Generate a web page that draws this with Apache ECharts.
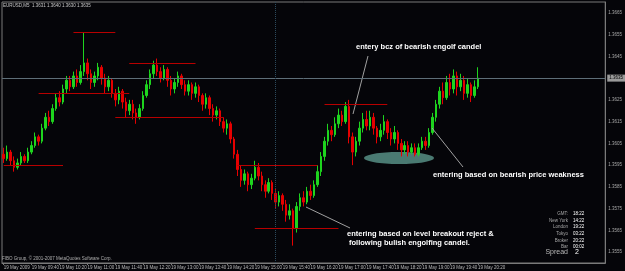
<!DOCTYPE html>
<html>
<head>
<meta charset="utf-8">
<script src="https://cdn.jsdelivr.net/npm/echarts@6/dist/echarts.min.js"></script>
<style>
  html, body { margin: 0; padding: 0; background: #050509; }
  #chart { width: 625px; height: 271px; }
</style>
</head>
<body>
<div id="chart"></div>
<script>
// EURUSD M5, 19 May 2009
const titleText = 'EURUSD,M5  1.3631 1.3640 1.3630 1.3635';
const timeLabels = ['19 May 2009', '19 May 09:40', '19 May 10:20', '19 May 11:00', '19 May 11:40',
  '19 May 12:20', '19 May 13:00', '19 May 13:40', '19 May 14:20', '19 May 15:00', '19 May 15:40',
  '19 May 16:20', '19 May 17:00', '19 May 17:40', '19 May 18:20', '19 May 19:00', '19 May 19:40',
  '19 May 20:20'];
// [open, close, low, high]
const candles = [
  [1.3600,1.3598,1.3596,1.3603],[1.3598,1.3601,1.3597,1.3604],[1.3601,1.3597,1.3595,1.3602],
  [1.3597,1.3594,1.3592,1.3599],[1.3594,1.3596,1.3593,1.3598],[1.3596,1.3599,1.3595,1.3601],
  [1.3599,1.3597,1.3596,1.3600],[1.3597,1.3601,1.3596,1.3603],[1.3601,1.3604,1.3600,1.3606],
  [1.3604,1.3608,1.3603,1.3610],[1.3608,1.3606,1.3604,1.3609],[1.3606,1.3612,1.3605,1.3614],
  [1.3612,1.3617,1.3611,1.3619],[1.3617,1.3615,1.3613,1.3620],[1.3615,1.3621,1.3614,1.3623],
  [1.3621,1.3626,1.3620,1.3628],[1.3626,1.3624,1.3622,1.3629],[1.3624,1.3630,1.3623,1.3632],
  [1.3630,1.3634,1.3628,1.3636],[1.3634,1.3631,1.3629,1.3636],[1.3631,1.3636,1.3630,1.3638],
  [1.3636,1.3633,1.3631,1.3639],[1.3633,1.3638,1.3632,1.3641],[1.3638,1.3642,1.3636,1.3656],
  [1.3642,1.3637,1.3634,1.3644],[1.3637,1.3633,1.3630,1.3639],[1.3633,1.3636,1.3631,1.3638],
  [1.3636,1.3640,1.3634,1.3642],[1.3640,1.3635,1.3632,1.3641],[1.3635,1.3631,1.3628,1.3637],
  [1.3631,1.3634,1.3629,1.3636],[1.3634,1.3628,1.3626,1.3635],[1.3628,1.3625,1.3622,1.3630],
  [1.3625,1.3629,1.3623,1.3631],[1.3629,1.3624,1.3621,1.3630],[1.3624,1.3620,1.3617,1.3626],
  [1.3620,1.3623,1.3618,1.3625],[1.3623,1.3619,1.3616,1.3625],[1.3619,1.3617,1.3614,1.3621],
  [1.3617,1.3621,1.3616,1.3623],[1.3621,1.3627,1.3620,1.3629],[1.3627,1.3632,1.3626,1.3634],
  [1.3632,1.3637,1.3630,1.3639],[1.3637,1.3641,1.3635,1.3643],[1.3641,1.3638,1.3636,1.3644],
  [1.3638,1.3635,1.3633,1.3640],[1.3635,1.3639,1.3634,1.3641],[1.3639,1.3634,1.3631,1.3640],
  [1.3634,1.3630,1.3627,1.3636],[1.3630,1.3633,1.3628,1.3635],[1.3633,1.3636,1.3631,1.3638],
  [1.3636,1.3632,1.3630,1.3637],[1.3632,1.3629,1.3627,1.3634],[1.3629,1.3632,1.3627,1.3634],
  [1.3632,1.3628,1.3625,1.3633],[1.3628,1.3631,1.3626,1.3633],[1.3631,1.3627,1.3624,1.3632],
  [1.3627,1.3623,1.3620,1.3628],[1.3623,1.3626,1.3621,1.3628],[1.3626,1.3621,1.3618,1.3627],
  [1.3621,1.3618,1.3615,1.3623],[1.3618,1.3620,1.3616,1.3622],[1.3620,1.3615,1.3613,1.3621],
  [1.3615,1.3612,1.3610,1.3617],[1.3612,1.3614,1.3609,1.3616],[1.3614,1.3607,1.3605,1.3615],
  [1.3607,1.3600,1.3598,1.3608],[1.3600,1.3593,1.3590,1.3602],[1.3593,1.3588,1.3585,1.3595],
  [1.3588,1.3591,1.3586,1.3593],[1.3591,1.3586,1.3583,1.3592],[1.3586,1.3589,1.3584,1.3591],
  [1.3589,1.3594,1.3588,1.3597],[1.3594,1.3590,1.3588,1.3596],[1.3590,1.3586,1.3583,1.3592],
  [1.3586,1.3583,1.3580,1.3588],[1.3583,1.3587,1.3582,1.3589],[1.3587,1.3582,1.3579,1.3588],
  [1.3582,1.3578,1.3575,1.3584],[1.3578,1.3581,1.3576,1.3583],[1.3581,1.3577,1.3574,1.3582],
  [1.3577,1.3572,1.3569,1.3579],[1.3572,1.3574,1.3570,1.3577],[1.3574,1.3566,1.3558,1.3575],
  [1.3566,1.3576,1.3564,1.3578],[1.3576,1.3580,1.3574,1.3582],[1.3580,1.3578,1.3576,1.3583],
  [1.3578,1.3583,1.3577,1.3585],[1.3583,1.3581,1.3579,1.3586],[1.3581,1.3586,1.3580,1.3588],
  [1.3586,1.3592,1.3585,1.3595],[1.3592,1.3599,1.3590,1.3601],[1.3599,1.3606,1.3597,1.3608],
  [1.3606,1.3611,1.3604,1.3614],[1.3611,1.3609,1.3606,1.3613],[1.3609,1.3614,1.3608,1.3617],
  [1.3614,1.3618,1.3612,1.3621],[1.3618,1.3615,1.3613,1.3620],[1.3615,1.3622,1.3614,1.3624],
  [1.3622,1.3608,1.3605,1.3625],[1.3608,1.3601,1.3595,1.3610],[1.3601,1.3606,1.3599,1.3608],
  [1.3606,1.3612,1.3604,1.3615],[1.3612,1.3616,1.3610,1.3619],[1.3616,1.3613,1.3611,1.3620],
  [1.3613,1.3617,1.3611,1.3620],[1.3617,1.3612,1.3609,1.3619],[1.3612,1.3608,1.3605,1.3613],
  [1.3608,1.3611,1.3606,1.3614],[1.3611,1.3615,1.3609,1.3618],[1.3615,1.3610,1.3607,1.3616],
  [1.3610,1.3607,1.3604,1.3612],[1.3607,1.3610,1.3605,1.3613],[1.3610,1.3605,1.3602,1.3611],
  [1.3605,1.3602,1.3599,1.3607],[1.3602,1.3604,1.3600,1.3606],[1.3604,1.3601,1.3599,1.3606],
  [1.3601,1.3603,1.3600,1.3605],[1.3603,1.3600,1.3599,1.3605],[1.3600,1.3603,1.3599,1.3605],
  [1.3603,1.3606,1.3602,1.3608],[1.3606,1.3604,1.3602,1.3608],[1.3604,1.3610,1.3603,1.3612],
  [1.3610,1.3617,1.3609,1.3619],[1.3617,1.3623,1.3615,1.3625],[1.3623,1.3629,1.3621,1.3631],
  [1.3629,1.3626,1.3623,1.3633],[1.3626,1.3633,1.3625,1.3636],[1.3633,1.3630,1.3627,1.3637],
  [1.3630,1.3636,1.3628,1.3639],[1.3636,1.3631,1.3627,1.3638],[1.3631,1.3634,1.3629,1.3637],
  [1.3634,1.3628,1.3625,1.3636],[1.3628,1.3632,1.3626,1.3635],[1.3632,1.3627,1.3624,1.3633],
  [1.3627,1.3631,1.3626,1.3634],[1.3631,1.3635,1.3630,1.3640]
];
// horizontal level lines: [from bar, to bar, price]
const levels = [
  [0, 17, 1.3595], [10, 36, 1.3628], [20, 32, 1.3656], [36, 55, 1.3642],
  [32, 63, 1.3617], [67, 90, 1.3595], [72, 96, 1.3566], [92, 110, 1.3623]
];
const lastPrice = 1.3635;
const separatorBar = 78;
const clockNames = ['GMT:', 'New York', 'London', 'Tokyo', 'Broker', 'Bar'];
const clockValues = ['18:22', '14:22', '19:22', '03:22', '20:22', '00:02'];
const spreadValue = '2';

// 173 M5 slots from 09:00 (bars + empty space on the right)
const slots = [];
for (let i = 0; i < 173; i++) {
  const m = 9 * 60 + i * 5;
  slots.push(String(Math.floor(m / 60)).padStart(2, '0') + ':' + String(m % 60).padStart(2, '0'));
}

const bull = '#1ed41e', bear = '#e60000';
const font = '"Liberation Sans", Arial, sans-serif';

const levelData = levels.map(l => [
  { coord: [l[0], l[2]] },
  { coord: [l[1], l[2]] }
]);

const graphics = [
  { type: 'ellipse', z: 0, shape: { cx: 399, cy: 158, rx: 35, ry: 6 }, style: { fill: '#4a7a72' } },
  { type: 'text', left: 3, top: 3, style: { text: titleText, fill: '#c8c8c8', fontSize: 4.5, fontFamily: font } },
  { type: 'text', left: 2, top: 256, style: { text: 'FIBO Group, © 2001-2007 MetaQuotes Software Corp.', fill: '#b0b0b0', fontSize: 4.5, fontFamily: font } },
  { type: 'text', left: 356, top: 43, style: { text: 'entery bcz of bearish engolf candel', fill: '#fff', fontSize: 7.5, fontWeight: 'bold', fontFamily: font } },
  { type: 'text', left: 433, top: 171, style: { text: 'entering based on bearish price weakness', fill: '#fff', fontSize: 7.5, fontWeight: 'bold', fontFamily: font } },
  { type: 'text', left: 347, top: 230, style: { text: 'entering based on level breakout reject &', fill: '#fff', fontSize: 7.5, fontWeight: 'bold', fontFamily: font } },
  { type: 'text', left: 349, top: 239, style: { text: 'following bulish engolfing candel.', fill: '#fff', fontSize: 7.5, fontWeight: 'bold', fontFamily: font } },
  { type: 'line', z: 5, shape: { x1: 368, y1: 56, x2: 353, y2: 114 }, style: { stroke: '#a0a0a0', lineWidth: 1 } },
  { type: 'line', z: 5, shape: { x1: 463, y1: 167, x2: 432, y2: 128 }, style: { stroke: '#a0a0a0', lineWidth: 1 } },
  { type: 'line', z: 5, shape: { x1: 350, y1: 228, x2: 306, y2: 207 }, style: { stroke: '#a0a0a0', lineWidth: 1 } }
];
const clockY = [211, 218, 224.5, 231, 238, 244];
clockNames.forEach((n, i) => {
  graphics.push({ type: 'text', x: 568, y: clockY[i], style: { text: n, fill: '#a8a8a8', fontSize: 4.5, fontFamily: font, align: 'right' } });
  graphics.push({ type: 'text', x: 573, y: clockY[i], style: { text: clockValues[i], fill: '#ffffff', fontSize: 4.5, fontFamily: font } });
});
graphics.push({ type: 'text', x: 568, y: 249, style: { text: 'Spread', fill: '#b8b8b8', fontSize: 7, fontFamily: font, align: 'right' } });
graphics.push({ type: 'text', x: 575, y: 249, style: { text: spreadValue, fill: '#ffffff', fontSize: 7, fontFamily: font } });

const chart = echarts.init(document.getElementById('chart'));
chart.setOption({
  backgroundColor: '#050509',
  animation: false,
  grid: { left: 2, right: 17, top: 2, bottom: 8, show: true, borderColor: '#7a7a7a', borderWidth: 1 },
  xAxis: {
    type: 'category',
    data: slots,
    boundaryGap: true,
    axisLine: { lineStyle: { color: '#7a7a7a' } },
    axisTick: { show: true, alignWithLabel: true, length: 2, lineStyle: { color: '#7a7a7a' },
      interval: (i) => i % 8 === 0 && i <= 136 },
    axisLabel: {
      interval: (i) => i % 8 === 0 && i <= 136,
      formatter: (v, i) => timeLabels[i / 8] || '',
      color: '#b8b8b8', fontSize: 4.5, fontFamily: font, align: 'left', margin: 2
    },
    splitLine: { show: false }
  },
  yAxis: {
    type: 'value',
    position: 'right',
    min: 1.3550,
    max: 1.3670,
    interval: 0.0005,
    axisLine: { show: true, lineStyle: { color: '#7a7a7a' } },
    axisTick: { show: false },
    axisLabel: {
      formatter: v => (Math.round(v * 10000) % 10 === 5 ? v.toFixed(4) : ''),
      color: '#a8a8a8', fontSize: 4.5, fontFamily: font, margin: 3
    },
    splitLine: { show: false }
  },
  series: [
    {
      // reference lines: last price and session separator
      type: 'line',
      data: [],
      z: 1,
      markLine: {
        silent: true,
        precision: 4,
        symbol: ['none', 'none'],
        animation: false,
        data: [
          {
            yAxis: lastPrice,
            lineStyle: { color: '#5e6e78', width: 1, type: 'solid' },
            label: {
              show: true, position: 'end', distance: 2, formatter: lastPrice.toFixed(4),
              backgroundColor: '#9a9a9a', color: '#000', fontSize: 4.5, padding: [1, 2], fontFamily: font
            }
          },
          {
            xAxis: separatorBar,
            lineStyle: { color: '#2c4a5c', width: 1, type: 'dotted' },
            label: { show: false }
          }
        ]
      }
    },
    {
      type: 'candlestick',
      data: candles,
      barWidth: 2,
      z: 3,
      itemStyle: { color: bull, color0: bear, borderColor: bull, borderColor0: bear, borderWidth: 1 },
      markLine: {
        silent: true,
        precision: 4,
        symbol: ['none', 'none'],
        label: { show: false },
        animation: false,
        lineStyle: { color: '#b80000', width: 1, type: 'solid' },
        data: levelData
      }
    }
  ],
  graphic: graphics
});
</script>
</body>
</html>
